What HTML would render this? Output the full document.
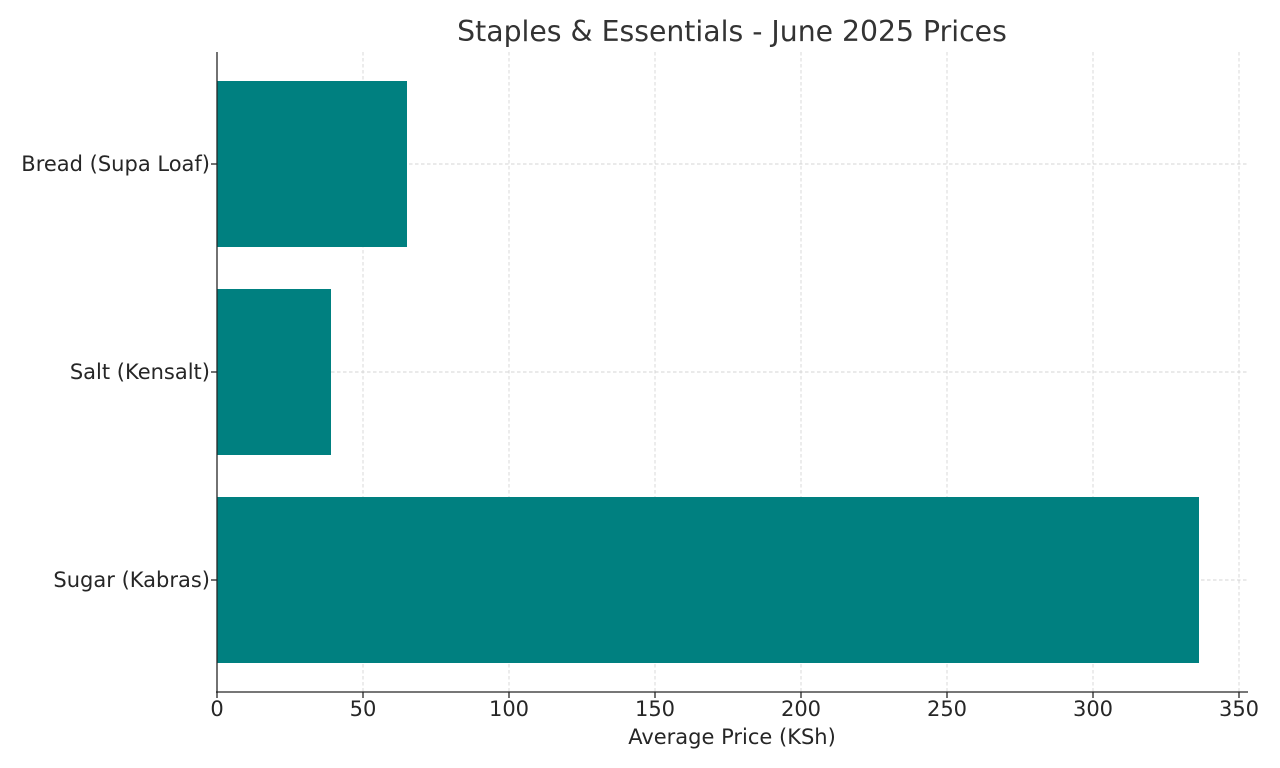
<!DOCTYPE html>
<html><head><meta charset="utf-8"><style>
html,body{margin:0;padding:0;background:#fff;}
svg{display:block;}
text{font-family:"DejaVu Sans","Liberation Sans",sans-serif;fill:#262626;}
</style></head><body>
<svg width="1280" height="768" viewBox="0 0 1280 768" xmlns="http://www.w3.org/2000/svg">
<rect width="1280" height="768" fill="#fff"/>
<g stroke="#d4d4d4" stroke-width="0.9" stroke-dasharray="3.5,2.5">
<line x1="363" y1="52" x2="363" y2="692"/>
<line x1="509" y1="52" x2="509" y2="692"/>
<line x1="655" y1="52" x2="655" y2="692"/>
<line x1="801" y1="52" x2="801" y2="692"/>
<line x1="947" y1="52" x2="947" y2="692"/>
<line x1="1093" y1="52" x2="1093" y2="692"/>
<line x1="1239" y1="52" x2="1239" y2="692"/>
<line x1="217" y1="164" x2="1248" y2="164"/>
<line x1="217" y1="372" x2="1248" y2="372"/>
<line x1="217" y1="580" x2="1248" y2="580"/>
</g>
<g fill="#008080">
<rect x="217" y="81" width="190" height="166"/>
<rect x="217" y="289" width="114" height="166"/>
<rect x="217" y="497" width="982" height="166"/>
</g>
<g stroke="#262626" stroke-width="1.3">
<line x1="217" y1="52" x2="217" y2="693"/>
<line x1="216" y1="692" x2="1248" y2="692"/>
<line x1="217" y1="692" x2="217" y2="698"/>
<line x1="363" y1="692" x2="363" y2="698"/>
<line x1="509" y1="692" x2="509" y2="698"/>
<line x1="655" y1="692" x2="655" y2="698"/>
<line x1="801" y1="692" x2="801" y2="698"/>
<line x1="947" y1="692" x2="947" y2="698"/>
<line x1="1093" y1="692" x2="1093" y2="698"/>
<line x1="1239" y1="692" x2="1239" y2="698"/>
<line x1="211" y1="164" x2="217" y2="164"/>
<line x1="211" y1="372" x2="217" y2="372"/>
<line x1="211" y1="580" x2="217" y2="580"/>
</g>
<g font-size="21" text-anchor="middle">
<text x="217" y="716">0</text>
<text x="363" y="716">50</text>
<text x="509" y="716">100</text>
<text x="655" y="716">150</text>
<text x="801" y="716">200</text>
<text x="947" y="716">250</text>
<text x="1093" y="716">300</text>
<text x="1239" y="716">350</text>
<text x="732" y="744">Average Price (KSh)</text>
<text x="732" y="41" font-size="28.3" style="fill:#333">Staples &amp; Essentials - June 2025 Prices</text>
</g>
<g font-size="21" text-anchor="end">
<text x="210" y="171">Bread (Supa Loaf)</text>
<text x="210" y="379">Salt (Kensalt)</text>
<text x="210" y="587">Sugar (Kabras)</text>
</g>
</svg>
</body></html>
